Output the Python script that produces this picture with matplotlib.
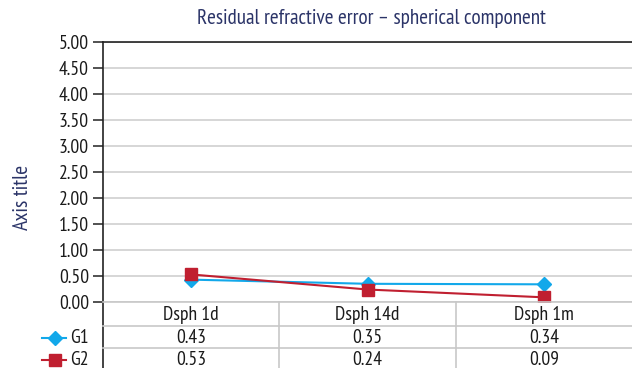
import matplotlib
matplotlib.use("Agg")
import matplotlib.pyplot as plt
from matplotlib.lines import Line2D
from matplotlib.transforms import blended_transform_factory
from matplotlib import font_manager as fm

categories = ["Dsph 1d", "Dsph 14d", "Dsph 1m"]
g1 = [0.43, 0.35, 0.34]
g2 = [0.53, 0.24, 0.09]
series_names = ["G1", "G2"]
yticks = [0.0, 0.5, 1.0, 1.5, 2.0, 2.5, 3.0, 3.5, 4.0, 4.5, 5.0]

available = {f.name for f in fm.fontManager.ttflist}
family = "DejaVu Sans"
for cand in ["PT Sans Narrow", "Fira Sans Condensed", "Archivo Narrow", "Roboto Condensed"]:
    if cand in available:
        family = cand
        break
plt.rcParams['font.family'] = [family, 'DejaVu Sans']

W, H = 632, 368
fig = plt.figure(figsize=(W / 100, H / 100), dpi=100)

left, right, top, bottom = 103, 632, 42, 302
ax = fig.add_axes([left / W, 1 - bottom / H, (right - left) / W, (bottom - top) / H])

c1 = "#12a8ea"
c2 = "#c01f30"
txtc = "#1a1a1a"
fs = 14
x = list(range(len(categories)))
ax.plot(x, g1, color=c1, lw=1.5, marker="D", ms=7.5, zorder=3)
ax.plot(x, g2, color=c2, lw=1.5, marker="s", ms=9, zorder=4)

ax.set_xlim(-0.5, len(categories) - 0.5)
ax.set_ylim(0, 5)
ax.set_yticks(yticks)
ax.set_yticklabels([f"{v:.2f}" for v in yticks], fontsize=fs, color=txtc)
ax.set_xticks([])
ax.grid(axis="y", color="#d0d0d0", lw=1.2)
ax.set_axisbelow(True)
ax.tick_params(axis="y", length=7, width=1.2, color="#333333", pad=3)
for s in ["right", "bottom"]:
    ax.spines[s].set_visible(False)
ax.spines["top"].set_color("#222222")
ax.spines["top"].set_linewidth(1.2)
ax.spines["left"].set_color("#222222")
ax.spines["left"].set_linewidth(1.2)

title_col = "#2b3468"
fig.text(371 / W, 1 - 18 / H, "Residual refractive error \u2013 spherical component",
         ha="center", va="center", fontsize=15.2, color=title_col)
fig.text(22 / W, 1 - 197 / H, "Axis title", rotation=90, ha="center", va="center",
         fontsize=15.5, color=title_col)

# data table
tr = blended_transform_factory(ax.transData, fig.transFigure)
grey = "#c8c8c8"
fy = lambda py: 1 - py / H
fig.add_artist(Line2D([left / W, left / W], [fy(bottom), fy(H + 2)], color="#222222", lw=1.2))
for py in [326, 348]:
    fig.add_artist(Line2D([left / W, 1], [fy(py), fy(py)], color=grey, lw=1.2))
fig.add_artist(Line2D([left / W, 1], [fy(bottom), fy(bottom)], color=grey, lw=1.2))
for xi in [0.5, 1.5]:
    ax.add_artist(Line2D([xi, xi], [fy(bottom), fy(H + 2)], color=grey, lw=1.2,
                         transform=tr, clip_on=False))
row_y = [315, 338, 360]
for i, cat in enumerate(categories):
    ax.text(i, fy(row_y[0]), cat, transform=tr, ha="center", va="center", fontsize=fs,
            color=txtc, clip_on=False)
    ax.text(i, fy(row_y[1]), f"{g1[i]:.2f}", transform=tr, ha="center", va="center",
            fontsize=fs, color=txtc, clip_on=False)
    ax.text(i, fy(row_y[2]), f"{g2[i]:.2f}", transform=tr, ha="center", va="center",
            fontsize=fs, color=txtc, clip_on=False)

# legend keys
for name, col, mk, ms, py in [(series_names[0], c1, "D", 7, 338), (series_names[1], c2, "s", 8.5, 360)]:
    fig.add_artist(Line2D([42 / W, 66 / W], [fy(py), fy(py)], color=col, lw=1.5))
    fig.add_artist(Line2D([55 / W], [fy(py)], color=col, marker=mk, ms=ms, lw=0))
    fig.text(70 / W, fy(py), name, ha="left", va="center", fontsize=fs, color=txtc)

fig.savefig("out.png", dpi=100)
